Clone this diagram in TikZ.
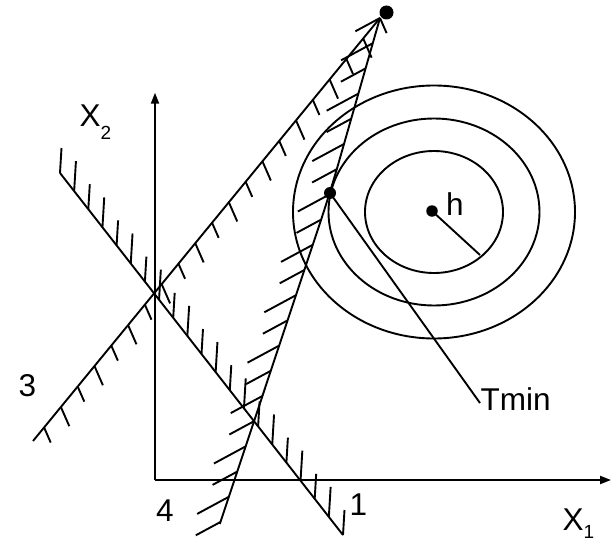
\documentclass[tikz,border=0pt]{standalone}
\usepackage{fontspec}
\setmainfont{Liberation Sans}
\usetikzlibrary{arrows.meta,calc}
\begin{document}
\begin{tikzpicture}[x=1pt,y=-1pt,
  ln/.style={line width=1.9pt},
  axis/.style={line width=2pt,-{Triangle[length=11pt,width=8pt]}},
  dotnode/.style={circle,fill=black,inner sep=0pt,minimum size=#1},
  lbl/.style={anchor=base west,inner sep=0pt,font=\fontsize{31.5}{36}\selectfont}]
\useasboundingbox (0,0) rectangle (611,543);
% axes
\coordinate (O) at (155,480);
\coordinate (x1end) at (611,480);
\coordinate (x2end) at (155,92.7);
\draw[axis] (O) -- (x2end);
\draw[axis] (O) -- (x1end);
% ellipses
\coordinate (c) at (434,212);
\draw[ln] (c) ellipse [x radius=141pt, y radius=126.5pt];
\draw[ln] (c) ellipse [x radius=105.5pt, y radius=93.5pt];
\draw[ln] (c) ellipse [x radius=69pt, y radius=61pt];
% line 1
\coordinate (l1a) at (60,173);
\coordinate (l1b) at (343,535);
\draw[ln] (l1a) -- (l1b);
\foreach \i in {0,...,20}{
  \pgfmathsetmacro\L{isodd(\i)?30:25}
  \draw[ln] ($(l1a)!\i/20!(l1b)$) -- ++(0.06*\L,-\L);
}
% line 3
\coordinate (l3a) at (33,441);
\coordinate (top) at (380,18);
\draw[ln] (l3a) -- (top);
\foreach \i in {0,...,20}{
  \pgfmathsetmacro\L{isodd(\i)?21:16.5}
  \draw[ln] ($(top)!0.0484*\i!(l3a)$) -- ++(0.4*\L,0.915*\L);
}
% line 4
\node[dotnode=12pt] (tmin) at (330,193) {};
\coordinate (l4b) at (219.8,524);
\draw[ln,rounded corners=30pt] (top) -- (tmin.center) -- (l4b);
\foreach \i in {0,...,20}{
  \pgfmathsetmacro\yy{18+25.2*\i}
  \pgfmathsetmacro\xx{\yy<193 ? 380-0.286*(\yy-18) : 330-0.333*(\yy-193)}
  \pgfmathsetmacro\L{isodd(\i)?36:28}
  \draw[ln] (\xx,\yy) -- ++(-0.88*\L,0.475*\L);
}
% dots and connectors
\node[dotnode=14pt] (apex) at (386.5,12.5) {};
\node[dotnode=11.5pt] (h) at (432,211) {};
\coordinate (hr) at (480,255);
\draw[ln] (h.center) -- (hr);
\coordinate (tminend) at (480,403);
\draw[ln] (tmin.center) -- (tminend);
% labels
\node[lbl] (lh) at (446,215) {h};
\node[lbl] (lt) at (480.5,410) {Tmin};
\node[lbl] (l3) at (18.5,396.7) {3};
\node[lbl] (l4) at (156,521.7) {4};
\node[lbl] (l1) at (349.5,515) {1};
\node[lbl] (lx2) at (79.5,127) {X\raisebox{-13pt}{\fontsize{19}{20}\selectfont 2}};
\node[lbl] (lx1) at (562.5,530) {X\raisebox{-8pt}{\fontsize{19}{20}\selectfont 1}};
\end{tikzpicture}
\end{document}
